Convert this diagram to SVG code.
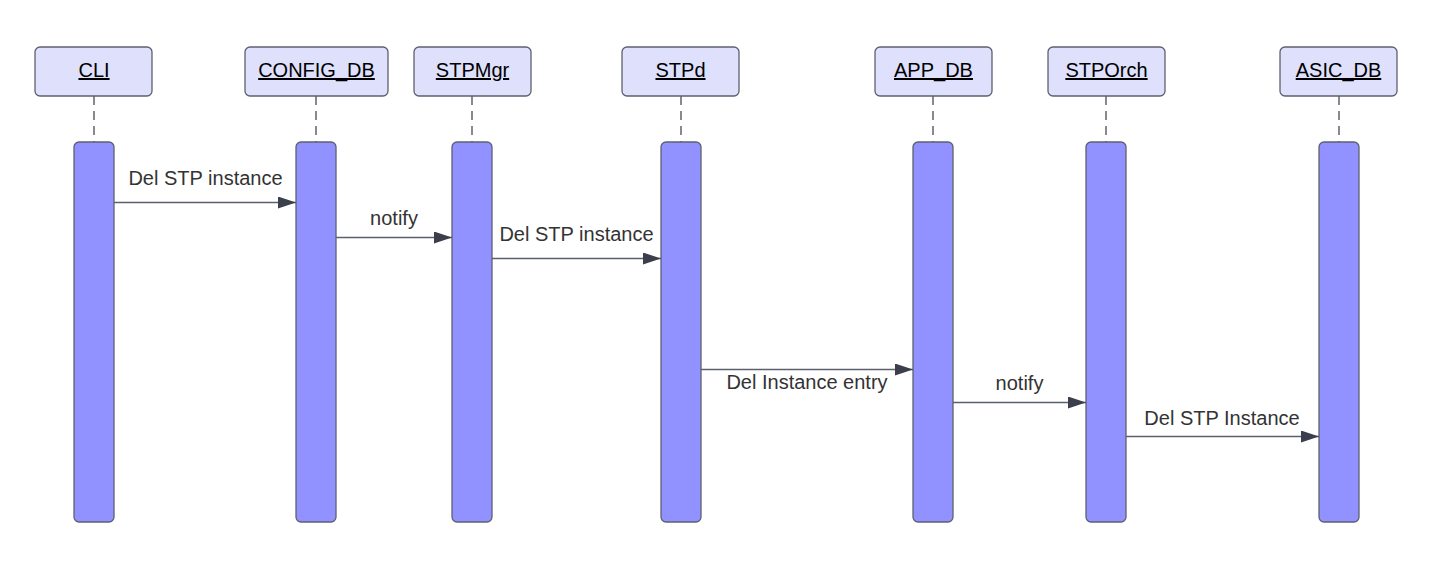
<svg xmlns="http://www.w3.org/2000/svg" width="1437" height="565" viewBox="0 0 1437 565">
<style>
.hdr{fill:#dee0fc;stroke:#5e6070;stroke-width:1.3}
.bar{fill:#9191ff;stroke:#5e6070;stroke-width:1.3}
.life{stroke:#4a4a55;stroke-width:1.3;stroke-dasharray:9,6;fill:none}
.msg{stroke:#5b5f6e;stroke-width:1.3;fill:none}
.ht{font-family:"Liberation Sans",Arial,sans-serif;font-size:20px;fill:#000;text-anchor:middle;text-decoration:underline}
.mt{font-family:"Liberation Sans",Arial,sans-serif;font-size:20px;fill:#333;text-anchor:middle}
</style>
<defs>
<marker id="ah" viewBox="0 0 18 12" refX="18" refY="6" markerWidth="18" markerHeight="12" markerUnits="userSpaceOnUse" orient="auto">
<path d="M0,0 L18,6 L0,12 Z" fill="#3b3f4c"/>
</marker>
</defs>
<rect width="1437" height="565" fill="#fff"/>
<g id="CLI">
<line class="life" x1="94" y1="96" x2="94" y2="142"/>
<rect class="hdr" x="35" y="47" width="117" height="49" rx="5"/>
<text class="ht" x="94" y="77">CLI</text>
<rect class="bar" x="74" y="142" width="40" height="380" rx="5"/>
</g>
<g id="CONFIG_DB">
<line class="life" x1="316" y1="96" x2="316" y2="142"/>
<rect class="hdr" x="245" y="47" width="143" height="49" rx="5"/>
<text class="ht" x="316.5" y="77">CONFIG_DB</text>
<rect class="bar" x="296" y="142" width="40" height="380" rx="5"/>
</g>
<g id="STPMgr">
<line class="life" x1="472" y1="96" x2="472" y2="142"/>
<rect class="hdr" x="414" y="47" width="117" height="49" rx="5"/>
<text class="ht" x="472.5" y="77">STPMgr</text>
<rect class="bar" x="452" y="142" width="40" height="380" rx="5"/>
</g>
<g id="STPd">
<line class="life" x1="681" y1="96" x2="681" y2="142"/>
<rect class="hdr" x="622" y="47" width="117" height="49" rx="5"/>
<text class="ht" x="680.5" y="77">STPd</text>
<rect class="bar" x="661" y="142" width="40" height="380" rx="5"/>
</g>
<g id="APP_DB">
<line class="life" x1="933" y1="96" x2="933" y2="142"/>
<rect class="hdr" x="875" y="47" width="117" height="49" rx="5"/>
<text class="ht" x="933.5" y="77">APP_DB</text>
<rect class="bar" x="913" y="142" width="40" height="380" rx="5"/>
</g>
<g id="STPOrch">
<line class="life" x1="1106" y1="96" x2="1106" y2="142"/>
<rect class="hdr" x="1048" y="47" width="117" height="49" rx="5"/>
<text class="ht" x="1106.5" y="77">STPOrch</text>
<rect class="bar" x="1086" y="142" width="40" height="380" rx="5"/>
</g>
<g id="ASIC_DB">
<line class="life" x1="1339" y1="96" x2="1339" y2="142"/>
<rect class="hdr" x="1280" y="47" width="117" height="49" rx="5"/>
<text class="ht" x="1338.5" y="77">ASIC_DB</text>
<rect class="bar" x="1319" y="142" width="40" height="380" rx="5"/>
</g>
<g id="connectors">
<line class="msg" x1="114" y1="202.5" x2="296" y2="202.5" marker-end="url(#ah)"/>
<text class="mt" x="205.5" y="185">Del STP instance</text>
<line class="msg" x1="336" y1="237.5" x2="452" y2="237.5" marker-end="url(#ah)"/>
<text class="mt" x="394" y="225">notify</text>
<line class="msg" x1="492" y1="258.5" x2="661" y2="258.5" marker-end="url(#ah)"/>
<text class="mt" x="576.5" y="241">Del STP instance</text>
<line class="msg" x1="701" y1="369.5" x2="913" y2="369.5" marker-end="url(#ah)"/>
<text class="mt" x="807" y="389">Del Instance entry</text>
<line class="msg" x1="953" y1="402.5" x2="1086" y2="402.5" marker-end="url(#ah)"/>
<text class="mt" x="1019.5" y="390">notify</text>
<line class="msg" x1="1126" y1="436.5" x2="1319" y2="436.5" marker-end="url(#ah)"/>
<text class="mt" x="1222" y="425">Del STP Instance</text>
</g>
</svg>
